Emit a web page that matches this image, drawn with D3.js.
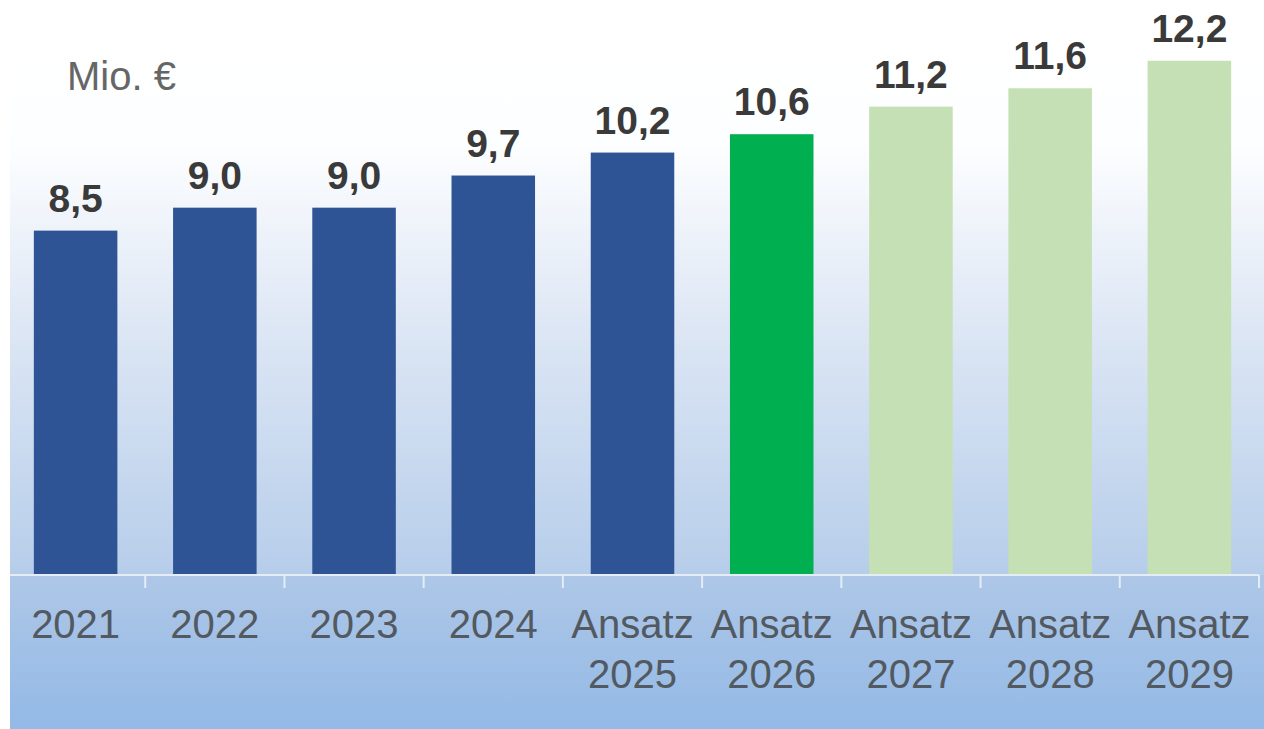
<!DOCTYPE html>
<meta charset="utf-8">
<style>
  body { margin: 0; background: #fff; }
  svg text { font-family: "Liberation Sans", Arial, sans-serif; }
</style>
<script src="https://cdnjs.cloudflare.com/ajax/libs/d3/7.8.5/d3.min.js"></script>
<div id="chart"></div>
<script>
// data
var categories = ["2021", "2022", "2023", "2024", "Ansatz 2025", "Ansatz 2026", "Ansatz 2027", "Ansatz 2028", "Ansatz 2029"];
var values = [8.5, 9.0, 9.0, 9.7, 10.2, 10.6, 11.2, 11.6, 12.2];
var kinds = ["ist", "ist", "ist", "ist", "ist", "aktuell", "plan", "plan", "plan"];
var unitLabel = "Mio. €";

var W = 1264, H = 729, axisY = 575;

var svg = d3.select("#chart").append("svg")
  .attr("width", W)
  .attr("height", H);

// background gradients
var defs = svg.append("defs");
var gTop = defs.append("linearGradient").attr("id", "bgTop")
  .attr("x1", 0).attr("y1", 0).attr("x2", 0).attr("y2", 1);
gTop.append("stop").attr("offset", "0%").attr("stop-color", "#ffffff");
gTop.append("stop").attr("offset", "25%").attr("stop-color", "#fdfeff");
gTop.append("stop").attr("offset", "55%").attr("stop-color", "#dfe8f5");
gTop.append("stop").attr("offset", "100%").attr("stop-color", "#b6cdea");
var gBot = defs.append("linearGradient").attr("id", "bgBot")
  .attr("x1", 0).attr("y1", 0).attr("x2", 0).attr("y2", 1);
gBot.append("stop").attr("offset", "0%").attr("stop-color", "#aec7e7");
gBot.append("stop").attr("offset", "100%").attr("stop-color", "#93b9e6");

svg.append("rect").attr("x", 10).attr("y", 0).attr("width", W - 10).attr("height", axisY)
  .attr("fill", "url(#bgTop)");
svg.append("rect").attr("x", 10).attr("y", axisY).attr("width", W - 10).attr("height", H - axisY)
  .attr("fill", "url(#bgBot)");

// scales
var x = d3.scaleBand()
  .domain(categories)
  .range([6, 1259])
  .paddingInner(0.4)
  .paddingOuter(0.2);

var y = d3.scaleLinear()
  .domain([1, 13])
  .range([axisY, 24]);

var color = d3.scaleOrdinal()
  .domain(["ist", "aktuell", "plan"])
  .range(["#2e5496", "#00b050", "#c5e0b4"]);

var fmt = d3.formatLocale({decimal: ",", thousands: ".", grouping: [3], currency: ["", " €"]}).format(".1f");

// bars
svg.selectAll(".bar")
  .data(values)
  .enter()
  .append("rect")
    .attr("class", "bar")
    .attr("x", function(d, i) { return x(categories[i]); })
    .attr("y", function(d) { return y(d); })
    .attr("width", x.bandwidth())
    .attr("height", function(d) { return axisY - y(d); })
    .attr("fill", function(d, i) { return color(kinds[i]); });

// value labels
svg.selectAll(".val")
  .data(values)
  .enter()
  .append("text")
    .attr("class", "val")
    .attr("x", function(d, i) { return x(categories[i]) + x.bandwidth() / 2; })
    .attr("y", function(d) { return y(d) - 19; })
    .attr("text-anchor", "middle")
    .style("font-size", "39px")
    .style("font-weight", "bold")
    .style("fill", "#3a3a3a")
    .text(function(d) { return fmt(d); });

// x axis: labels only, ticks drawn at category boundaries
var xAxis = svg.append("g")
  .attr("transform", "translate(0," + axisY + ")")
  .call(d3.axisBottom(x).tickSize(0).tickFormat(""));
xAxis.select(".domain").remove();

var step = x.step();
var bounds = categories.map(function(c) { return x(c) - x.paddingInner() * step / 2 + step; });
svg.append("line")
  .attr("x1", 10).attr("x2", bounds[bounds.length - 1])
  .attr("y1", axisY).attr("y2", axisY)
  .attr("stroke", "#e4ecf6").attr("stroke-width", 2);
svg.selectAll(".tick-mark")
  .data(bounds)
  .enter()
  .append("line")
    .attr("class", "tick-mark")
    .attr("x1", function(d) { return d; }).attr("x2", function(d) { return d; })
    .attr("y1", axisY).attr("y2", axisY + 13)
    .attr("stroke", "#e4ecf6").attr("stroke-width", 2);

xAxis.selectAll(".tick").each(function(c) {
  var lines = c.split(" ");
  var t = d3.select(this).append("text")
    .attr("text-anchor", "middle")
    .style("font-size", "40px")
    .style("fill", "#525960");
  lines.forEach(function(l, k) {
    t.append("tspan").attr("x", 0).attr("y", 63 + k * 50).text(l);
  });
});

// unit label
svg.append("text")
  .attr("x", 67)
  .attr("y", 90)
  .style("font-size", "40px")
  .style("fill", "#666")
  .text(unitLabel);
</script>
